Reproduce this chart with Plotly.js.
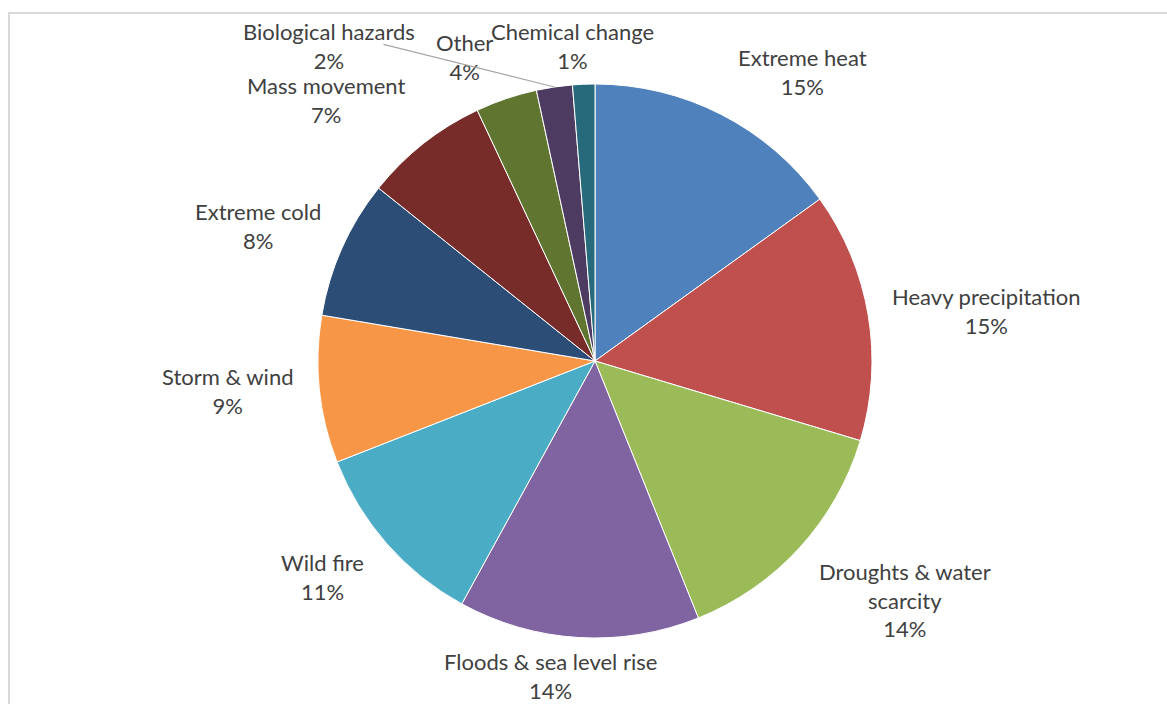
<!DOCTYPE html>
<html>
<head>
<meta charset="utf-8">
<script src="https://cdn.plot.ly/plotly-3.0.1.min.js"></script>
<style>html,body{margin:0;padding:0;background:#fff;}#chart{width:1167px;height:704px;}</style>
</head>
<body>
<div id="chart"></div>
<script>
// ---- data ----
const categories = ["Extreme heat", "Heavy precipitation", "Droughts & water scarcity", "Floods & sea level rise", "Wild fire", "Storm & wind", "Extreme cold", "Mass movement", "Other", "Biological hazards", "Chemical change"];
const values = [15.1, 14.6, 14.3, 14.1, 11.1, 8.6, 8.1, 7.3, 3.6, 2.1, 1.3];
const colors = ["#4F81BD", "#C0504D", "#9BBB59", "#8064A2", "#4BACC6", "#F79646", "#2C4D75", "#772C2A", "#5F7530", "#4D3B62", "#276A7C"];
const labelWrap = {"Droughts & water scarcity": "Droughts & water<br>scarcity"};

// ---- layout geometry / label placement (styling, not data) ----
const W = 1167, H = 704;
const M = {l: 318, r: 295, t: 84, b: 66};
const PW = W - M.l - M.r, PH = H - M.t - M.b;
const R = Math.min(PW, PH) / 2;
const CX = M.l + PW / 2, CY = M.t + PH / 2;
const GAP = 18;
const FONT = {family: "Lato, 'Open Sans', sans-serif", size: 22, color: "#404040"};
const labelNudge = {
  "Extreme heat": [6, 4], "Heavy precipitation": [4, -1], "Droughts & water scarcity": [4, -4],
  "Floods & sea level rise": [-27, -9], "Wild fire": [-7, -9], "Storm & wind": [-7, 0],
  "Extreme cold": [-3, -15], "Mass movement": [-5, 1], "Other": [-6, 5], "Chemical change": [-10, 10]
};
const bioLabelPx = {x: 329, y: 46};     // label dragged aside with a leader line, as in the reference
const bioLeaderTail = {x: 382, y: 44};

function toPaper(px, py) { return {x: (px - M.l) / PW, y: 1 - (py - M.t) / PH}; }

const total = values.reduce((a, b) => a + b, 0);
const annotations = [];
let cum = 0;
values.forEach((v, i) => {
  const mid = (cum + v / 2) / total * 2 * Math.PI;
  cum += v;
  const s = Math.sin(mid), c = Math.cos(mid);
  const pct = Math.round(v / total * 100) + "%";
  const name = labelWrap[categories[i]] || categories[i];
  const text = name + "<br>" + pct;
  if (categories[i] === "Biological hazards") {
    const head = toPaper(CX + R * s, CY - R * c);
    const tail = toPaper(bioLeaderTail.x, bioLeaderTail.y);
    annotations.push({xref: "paper", yref: "paper", x: head.x, y: head.y, axref: "paper", ayref: "paper",
      ax: tail.x, ay: tail.y, text: "", showarrow: true, arrowhead: 0, arrowwidth: 1.2, arrowcolor: "#A6A6A6"});
    const p = toPaper(bioLabelPx.x, bioLabelPx.y);
    annotations.push({xref: "paper", yref: "paper", x: p.x, y: p.y, xanchor: "center", yanchor: "middle",
      text: text, showarrow: false, font: FONT, align: "center"});
    return;
  }
  const nd = labelNudge[categories[i]] || [0, 0];
  const px = CX + (R + GAP) * s + nd[0], py = CY - (R + GAP) * c + nd[1];
  const p = toPaper(px, py);
  const xa = s > 0.3 ? "left" : (s < -0.3 ? "right" : "center");
  const ya = c > 0.5 ? "bottom" : (c < -0.5 ? "top" : "middle");
  annotations.push({xref: "paper", yref: "paper", x: p.x, y: p.y, xanchor: xa, yanchor: ya,
    text: text, showarrow: false, font: FONT, align: "center"});
});

const b0 = toPaper(9, 13), b1 = toPaper(1168, 720);
const trace = {
  type: "pie", labels: categories, values: values, sort: false, direction: "clockwise", rotation: 0,
  marker: {colors: colors, line: {color: "#FFFFFF", width: 1}},
  textinfo: "none", hoverinfo: "label+percent", showlegend: false
};
const layout = {
  width: W, height: H, margin: M, paper_bgcolor: "#FFFFFF", plot_bgcolor: "#FFFFFF",
  showlegend: false, annotations: annotations,
  shapes: [{type: "rect", xref: "paper", yref: "paper", x0: b0.x, y0: b0.y, x1: b1.x, y1: b1.y,
    line: {color: "#D9D9D9", width: 2}, fillcolor: "rgba(0,0,0,0)", layer: "below"}]
};
Plotly.newPlot("chart", [trace], layout, {displayModeBar: false, staticPlot: true});
</script>
</body>
</html>
